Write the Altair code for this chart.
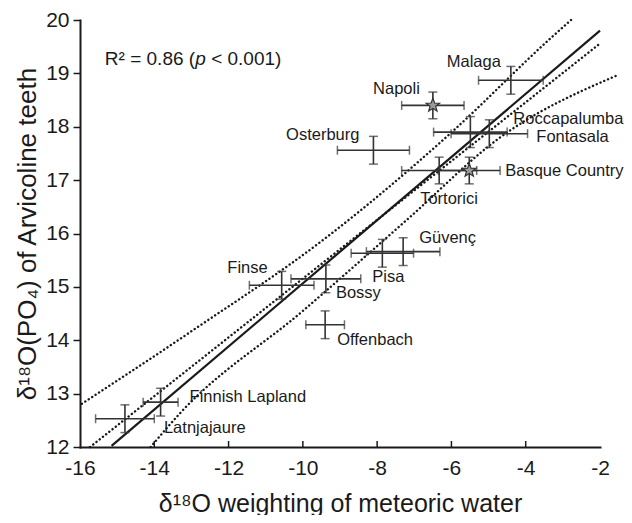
import math
import altair as alt
import pandas as pd

# ---------------- data ----------------
sites = ["Malaga", "Napoli", "Roccapalumba", "Fontasala", "Osterburg", "Tortorici",
         "Basque Country", "Güvenç", "Pisa", "Finse", "Bossy", "Offenbach",
         "Finnish Lapland", "Latnjajaure"]
water = [-4.40, -6.50, -5.49, -4.98, -8.10, -6.33, -5.52, -7.30, -7.86, -10.57,
         -9.38, -9.40, -13.83, -14.79]
teeth = [18.87, 18.40, 17.90, 17.87, 17.56, 17.18, 17.18, 15.66, 15.63, 15.03,
         15.15, 14.29, 12.84, 12.53]
water_err = [0.87, 0.84, 0.99, 1.03, 0.97, 1.01, 0.83, 0.99, 0.84, 0.87, 0.94,
             0.52, 0.47, 0.79]
teeth_err = [0.26, 0.25, 0.29, 0.26, 0.26, 0.25, 0.25, 0.26, 0.26, 0.26, 0.26,
             0.26, 0.26, 0.26]
star_sites = ["Napoli", "Basque Country"]

# regression line and dotted lines, read as points (x, y)
fit_x = [-15.15, -2.0]
fit_y = [12.02, 19.80]
upper_x = [-15.95, -13.04, -9.36, -5.99, -3.39, -2.78]
upper_y = [12.81, 14.15, 15.93, 17.90, 19.62, 20.0]
lower_x = [-14.10, -13.31, -10.0, -7.21, -4.69, -1.55]
lower_y = [12.00, 12.63, 14.55, 16.25, 17.80, 18.96]
other_x = [-15.73, -2.0]
other_y = [12.0, 19.56]

x_ticks = [-16, -14, -12, -10, -8, -6, -4, -2]
y_ticks = [12, 13, 14, 15, 16, 17, 18, 19, 20]

# ---------------- layout / style ----------------
W, H = 520, 427
XDOM, YDOM = [-16, -2], [12, 20]
pxx = W / (XDOM[1] - XDOM[0])
pxy = H / (YDOM[1] - YDOM[0])
FONT = "Liberation Sans, Arial, Helvetica, sans-serif"
INK = "#1a1a1a"
LABEL_SIZE = 16.5

# label offsets in pixels from the point centre: (dx, dy, align)
label_layout = {
    "Malaga": (-10, -18, "right"),
    "Napoli": (-13, -16, "right"),
    "Roccapalumba": (43, -13, "left"),
    "Fontasala": (47, 3, "left"),
    "Osterburg": (-14, -15, "right"),
    "Basque Country": (36, 0, "left"),
    "Tortorici": (-19, 28, "left"),
    "Güvenç": (16, -14, "left"),
    "Pisa": (-10, 24, "left"),
    "Finse": (-14, -17, "right"),
    "Bossy": (10, 14, "left"),
    "Offenbach": (12, 15, "left"),
    "Finnish Lapland": (29, -5, "left"),
    "Latnjajaure": (39, 9, "left"),
}

pts = pd.DataFrame({
    "site": sites, "x": water, "y": teeth,
    "xe": water_err, "ye": teeth_err,
})
pts["x0"] = pts.x - pts.xe
pts["x1"] = pts.x + pts.xe
pts["y0"] = pts.y - pts.ye
pts["y1"] = pts.y + pts.ye
pts["star"] = pts.site.isin(star_sites)
pts["lx"] = [x + label_layout[s][0] / pxx for s, x in zip(sites, water)]
pts["ly"] = [y - label_layout[s][1] / pxy for s, y in zip(sites, teeth)]
pts["align"] = [label_layout[s][2] for s in sites]

lines = pd.concat([
    pd.DataFrame({"line": "fit", "x": fit_x, "y": fit_y}),
    pd.DataFrame({"line": "upper", "x": upper_x, "y": upper_y}),
    pd.DataFrame({"line": "lower", "x": lower_x, "y": lower_y}),
    pd.DataFrame({"line": "other", "x": other_x, "y": other_y}),
])
lines["o"] = range(len(lines))

xs = alt.Scale(domain=XDOM, nice=False, zero=False)
ys = alt.Scale(domain=YDOM, nice=False, zero=False)

X = alt.X("x:Q", scale=xs, axis=alt.Axis(
    values=x_ticks, ticks=False, grid=False, labelExpr="'' + datum.value",
    labelFlush=False, labelFontSize=21, labelPadding=10, labelColor=INK,
    labelFont=FONT, domainColor=INK, domainWidth=2,
    title="δ¹⁸O weighting of meteoric water", titleFontSize=25,
    titleFont=FONT, titleFontWeight="normal", titleColor=INK, titlePadding=13))
Y = alt.Y("y:Q", scale=ys, axis=alt.Axis(
    values=y_ticks, grid=False, labelExpr="'' + datum.value", labelFlush=False,
    tickSize=7, tickWidth=1.5, tickColor=INK,
    labelFontSize=21, labelPadding=4, labelColor=INK, labelFont=FONT,
    domainColor=INK, domainWidth=2,
    title="δ¹⁸O(PO₄) of Arvicoline teeth", titleFontSize=26,
    titleFont=FONT, titleFontWeight="normal", titleColor=INK, titlePadding=5))

base = alt.Chart(pts)

fit = alt.Chart(lines).transform_filter("datum.line == 'fit'").mark_line(
    color=INK, strokeWidth=2.2).encode(x=X, y=Y, order="o:Q")
dotted = alt.Chart(lines).transform_filter("datum.line != 'fit'").mark_line(
    color=INK, strokeWidth=2.4, strokeDash=[0.1, 4], strokeCap="round",
    interpolate="monotone").encode(
    x="x:Q", y="y:Q", detail="line:N", order="o:Q")

BAR = "#333333"
hbar = base.mark_rule(color=BAR, strokeWidth=1.6).encode(
    x="x0:Q", x2="x1:Q", y="y:Q")
vbar = base.mark_rule(color=BAR, strokeWidth=1.6).encode(
    x="x:Q", y="y0:Q", y2="y1:Q")
capx0 = base.mark_tick(orient="vertical", size=9, thickness=1.5,
                       color=BAR).encode(x="x0:Q", y="y:Q")
capx1 = base.mark_tick(orient="vertical", size=9, thickness=1.5,
                       color=BAR).encode(x="x1:Q", y="y:Q")
capy0 = base.mark_tick(orient="horizontal", size=9, thickness=1.5,
                       color=BAR).encode(x="x:Q", y="y0:Q")
capy1 = base.mark_tick(orient="horizontal", size=9, thickness=1.5,
                       color=BAR).encode(x="x:Q", y="y1:Q")

star_pts = []
for i in range(10):
    r = 1.0 if i % 2 == 0 else 0.42
    a = -math.pi / 2 + i * math.pi / 5
    star_pts.append(f"{r * math.cos(a):.3f},{r * math.sin(a):.3f}")
STAR = "M" + " L".join(star_pts) + " Z"

stars = base.transform_filter("datum.star").mark_point(
    shape=STAR, size=200, filled=True, fill="#9a9a9a", stroke=BAR,
    strokeWidth=1.2, opacity=1).encode(x="x:Q", y="y:Q")

lab_left = base.transform_filter("datum.align == 'left'").mark_text(
    align="left", baseline="middle", fontSize=LABEL_SIZE, font=FONT,
    color=INK).encode(x="lx:Q", y="ly:Q", text="site:N")
lab_right = base.transform_filter("datum.align == 'right'").mark_text(
    align="right", baseline="middle", fontSize=LABEL_SIZE, font=FONT,
    color=INK).encode(x="lx:Q", y="ly:Q", text="site:N")

# inward x-axis ticks
xt = alt.Chart(pd.DataFrame({"x": x_ticks[1:-1]})).mark_rule(
    color=INK, strokeWidth=1.5).encode(x="x:Q", y=alt.value(H), y2=alt.value(H - 6))

# R² annotation (italic p in its own piece)
r2_x, r2_y = -12.90, 19.27
ann = pd.DataFrame({"x": [r2_x], "y": [r2_y]})
r2a = alt.Chart(ann).mark_text(align="right", baseline="middle", fontSize=19,
                               font=FONT, color=INK).encode(
    x="x:Q", y="y:Q", text=alt.value("R² = 0.86 ("))
r2p = alt.Chart(ann).mark_text(align="left", baseline="middle", fontSize=19,
                               font=FONT, fontStyle="italic", color=INK).encode(
    x="x:Q", y="y:Q", text=alt.value("p"))
r2b = alt.Chart(ann).mark_text(align="left", baseline="middle", fontSize=19, dx=16,
                               font=FONT, color=INK).encode(
    x="x:Q", y="y:Q", text=alt.value("< 0.001)"))

chart = alt.layer(fit, dotted, hbar, vbar, capx0, capx1, capy0, capy1, stars,
                  lab_left, lab_right, xt, r2a, r2p, r2b).properties(
    width=W, height=H, autosize="none",
    padding={"left": 72, "top": 12, "right": 24, "bottom": 68},
).configure_view(stroke=None).configure_axis(domainCap="square")

chart.save("out.html", embed_options={"renderer": "svg", "actions": False})
